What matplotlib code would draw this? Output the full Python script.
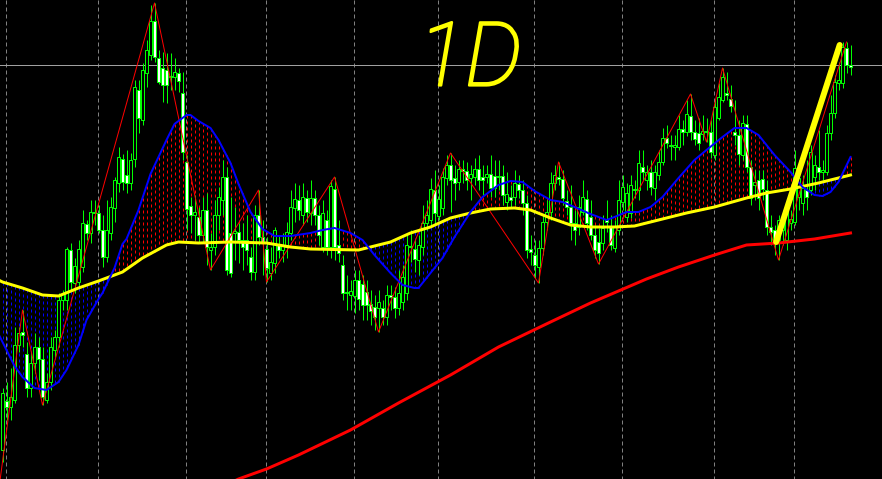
import numpy as np
import matplotlib
matplotlib.use("Agg")
import matplotlib.pyplot as plt
import matplotlib.patheffects as pe

# ---------------- data (chart levels: smaller value = higher price, axis inverted) -------------
open_ = [450,401,407,400,345,332,354,388,363,347,359,400,382,350,337,300,300,250,283,282,
         267,224,233,212,213,230,257,233,208,183,159,175,183,159,90,120,73,55,21,58,
         68,70,76,77,73,93,162,206,215,217,235,210,250,247,215,200,177,233,233,232,
         240,240,257,272,215,237,249,273,263,245,250,247,233,208,200,215,198,213,198,215,
         247,220,247,189,245,265,292,295,296,280,284,292,304,307,308,308,317,295,297,308,
         302,293,246,249,260,247,223,220,190,216,208,178,165,178,182,169,171,178,177,169,
         177,177,174,176,176,176,202,197,197,184,190,203,249,255,267,248,222,212,183,177,
         179,201,207,223,227,212,199,217,235,242,243,220,226,248,230,202,217,213,189,190,
         167,180,172,188,175,162,138,145,147,147,129,132,116,132,133,134,131,132,155,118,
         100,93,99,132,135,155,124,167,185,180,179,190,227,230,240,230,240,223,222,197,
         203,190,190,177,167,172,172,133,113,83,83,48,65]
close = [393,407,397,345,333,335,388,363,347,359,397,382,347,337,300,294,249,282,266,249,
         223,233,212,213,230,257,230,207,180,157,182,183,160,87,118,70,50,21,57,82,
         85,85,77,72,81,152,209,215,212,235,210,247,247,215,197,177,270,273,231,240,
         247,250,272,215,237,243,268,262,230,250,245,232,207,199,210,197,212,198,215,235,
         213,247,186,247,253,293,293,291,280,299,305,305,311,317,302,317,295,297,308,293,
         277,245,247,259,245,223,215,189,213,199,177,165,180,183,169,171,180,174,169,180,
         180,174,188,188,176,195,194,200,183,190,203,250,252,265,248,222,212,183,175,179,
         198,207,223,230,207,197,223,235,250,253,228,222,245,227,200,187,193,185,190,163,
         172,172,187,172,162,138,143,146,145,129,132,114,132,139,143,131,132,152,107,97,
         77,95,106,135,154,123,167,198,182,198,189,227,232,243,220,218,210,219,168,178,
         188,197,152,165,172,170,133,113,82,80,47,65,67]
high = [388,382,368,327,327,310,342,352,333,337,347,373,337,330,293,290,247,243,258,240,
        210,220,200,200,205,215,200,197,177,147,154,150,153,80,80,63,40,5,3,50,
        52,53,53,58,68,72,155,197,195,207,197,193,233,200,187,160,167,197,207,223,
        223,215,247,205,190,220,237,247,227,235,233,222,190,183,185,183,190,180,190,205,
        200,210,180,177,220,255,275,280,270,270,275,280,290,295,290,300,285,285,287,270,
        265,235,230,240,235,205,200,178,170,185,168,155,153,165,160,160,162,165,158,155,
        165,165,155,160,160,165,172,185,170,175,180,195,235,240,240,215,200,172,165,162,
        170,190,185,210,195,180,190,200,225,228,215,200,215,220,180,175,183,175,180,150,
        150,165,160,165,150,128,125,135,135,115,120,100,94,120,118,115,118,120,100,83,
        68,72,85,100,120,115,115,160,170,170,170,180,215,225,215,210,205,210,150,160,
        175,160,145,155,130,160,125,95,75,62,42,42,45]
low = [462,420,420,403,352,347,397,397,373,380,405,403,390,357,347,310,310,290,293,287,
       272,240,243,225,233,267,262,240,222,192,190,193,190,167,133,125,87,60,62,84,
       102,103,90,90,92,160,230,233,240,243,243,265,270,255,230,215,275,277,260,263,
       270,265,280,280,245,275,282,280,273,258,262,258,240,222,220,225,222,225,225,245,
       252,255,258,260,262,300,310,310,313,310,320,320,325,330,332,325,325,310,318,315,
       310,300,262,272,275,255,230,225,225,220,215,185,212,200,190,183,190,200,185,190,
       195,183,197,197,190,205,210,208,205,198,215,258,265,278,283,255,230,220,190,185,
       205,215,240,245,235,215,230,240,258,264,250,232,250,252,235,210,222,218,198,200,
       180,190,195,200,180,165,148,160,160,150,145,136,140,145,150,140,142,158,160,120,
       102,100,112,145,165,160,172,205,200,210,200,235,245,255,260,245,250,230,225,210,
       215,210,195,190,180,180,175,140,118,90,88,73,75]

# moving averages, read at sample bars
blue_bar = [-1,0,3,5,8,11,14,16,19,21,24,25,28,30,31,34,37,41,43,46,47,49,52,54,57,59,62,65,68,72,
            77,80,83,87,90,93,97,100,103,104,107,110,113,117,120,124,127,130,133,137,140,143,147,
            151,153,156,159,162,165,169,173,176,180,183,186,189,193,197,200,203,205,207,209,212]
blue_val = [334,342,366,377,388,390,382,370,345,320,299,293,268,244,239,210,174,140,124,115,115,121,
            128,140,163,184,212,229,236,236,233,230,228,233,240,255,273,285,288,288,273,258,237,212,
            197,185,181,182,191,200,202,207,214,220,217,212,212,207,197,178,160,150,137,128,128,135,
            155,172,187,195,196,192,182,157]
yellow_bar = [-1,0,5,10,14,19,24,30,35,41,44,49,57,66,72,77,89,92,97,102,107,112,117,122,128,132,
              137,142,147,153,158,164,171,178,186,191,197,204,212]
yellow_val = [280,282,288,295,296,288,281,272,258,245,242,243,242,243,247,249,250,247,242,233,227,
              218,213,209,208,210,218,225,227,227,226,220,213,207,198,193,189,183,175]
red_bar = [56,59,66,74,87,99,112,124,137,147,161,169,178,186,194,203,212]
red_val = [485,479,469,455,430,403,375,347,322,303,279,267,255,245,243,239,233]

# zigzag pivots
zz_bar = [-1,5,10,38,52,64,66,83,94,112,134,139,149,172,176,180,194,211]
zz_val = [492,310,405,3,270,190,282,177,332,153,283,162,264,94,142,68,260,42]

# period separators and horizontal level
month_start_bars = [1,24,46,66,88,109,133,155,178,198]
h_level = 65

# hand-drawn annotations
label_text = "1D"
label_pos = (116.8, 61)
slash_bar = [193.4, 209.3]
slash_val = [242, 45]

# ---------------- drawing ----------------
W, H, DPI = 882, 479, 100
PX = 72.0 / DPI
fig = plt.figure(figsize=(W / DPI, H / DPI), dpi=DPI, facecolor="black")
ax = fig.add_axes([0, 0, 1, 1], facecolor="black")
ax.set_xlim(-0.625, 219.875)
ax.set_ylim(H, 0)
ax.axis("off")

GREEN = "#00ff00"

# separators
for b in month_start_bars:
    ax.plot([b - 0.125, b - 0.125], [0, H], color="#808080", lw=PX,
            dashes=(4, 3), zorder=1)
ax.plot([-1, 221], [h_level, h_level], color="#a0a0a0", lw=PX, zorder=1)

# histogram fill between blue and yellow MA
idx = np.arange(len(close))
b_i = np.interp(idx, blue_bar, blue_val)
y_i = np.interp(idx, yellow_bar, yellow_val)
up = b_i < y_i
for xi, bv, yv, u in zip(idx, b_i, y_i, up):
    ax.plot([xi, xi], [min(bv, yv), max(bv, yv)], color="#ff0000" if u else "#0000ff",
            lw=PX, dashes=(3, 3), solid_capstyle="butt", zorder=2)

# candles
o = np.array(open_, float); c = np.array(close, float)
h = np.array(high, float); l = np.array(low, float)
ax.vlines(idx, h, l, colors=GREEN, lw=PX, zorder=3)
bear = c > o
bot = np.minimum(o, c)
hgt = np.maximum(np.abs(c - o), 0.8)
ax.bar(idx, hgt, bottom=bot, width=0.6, color=np.where(bear, "white", "black"),
       edgecolor=GREEN, linewidth=PX, zorder=4)

# zigzag
ax.plot(zz_bar, zz_val, color="#ff0000", lw=PX, zorder=5)

# moving averages
ax.plot(red_bar, red_val, color="#ff0000", lw=3 * PX, zorder=6)
ax.plot(yellow_bar, yellow_val, color="#ffff00", lw=3 * PX, zorder=6)
ax.plot(blue_bar, blue_val, color="#0000ff", lw=2 * PX, zorder=7)

# annotations
ax.plot(slash_bar, slash_val, color="#ffff00", lw=6 * PX, solid_capstyle="round", zorder=8)
ax.text(label_pos[0], label_pos[1], label_text, color="#ffff00", fontsize=64,
        fontfamily="Roboto", fontweight="light", fontstyle="italic",
        ha="center", va="center", zorder=8,
        path_effects=[pe.withStroke(linewidth=1.6, foreground="#ffff00")])

fig.savefig("out.png", dpi=DPI, facecolor="black")
